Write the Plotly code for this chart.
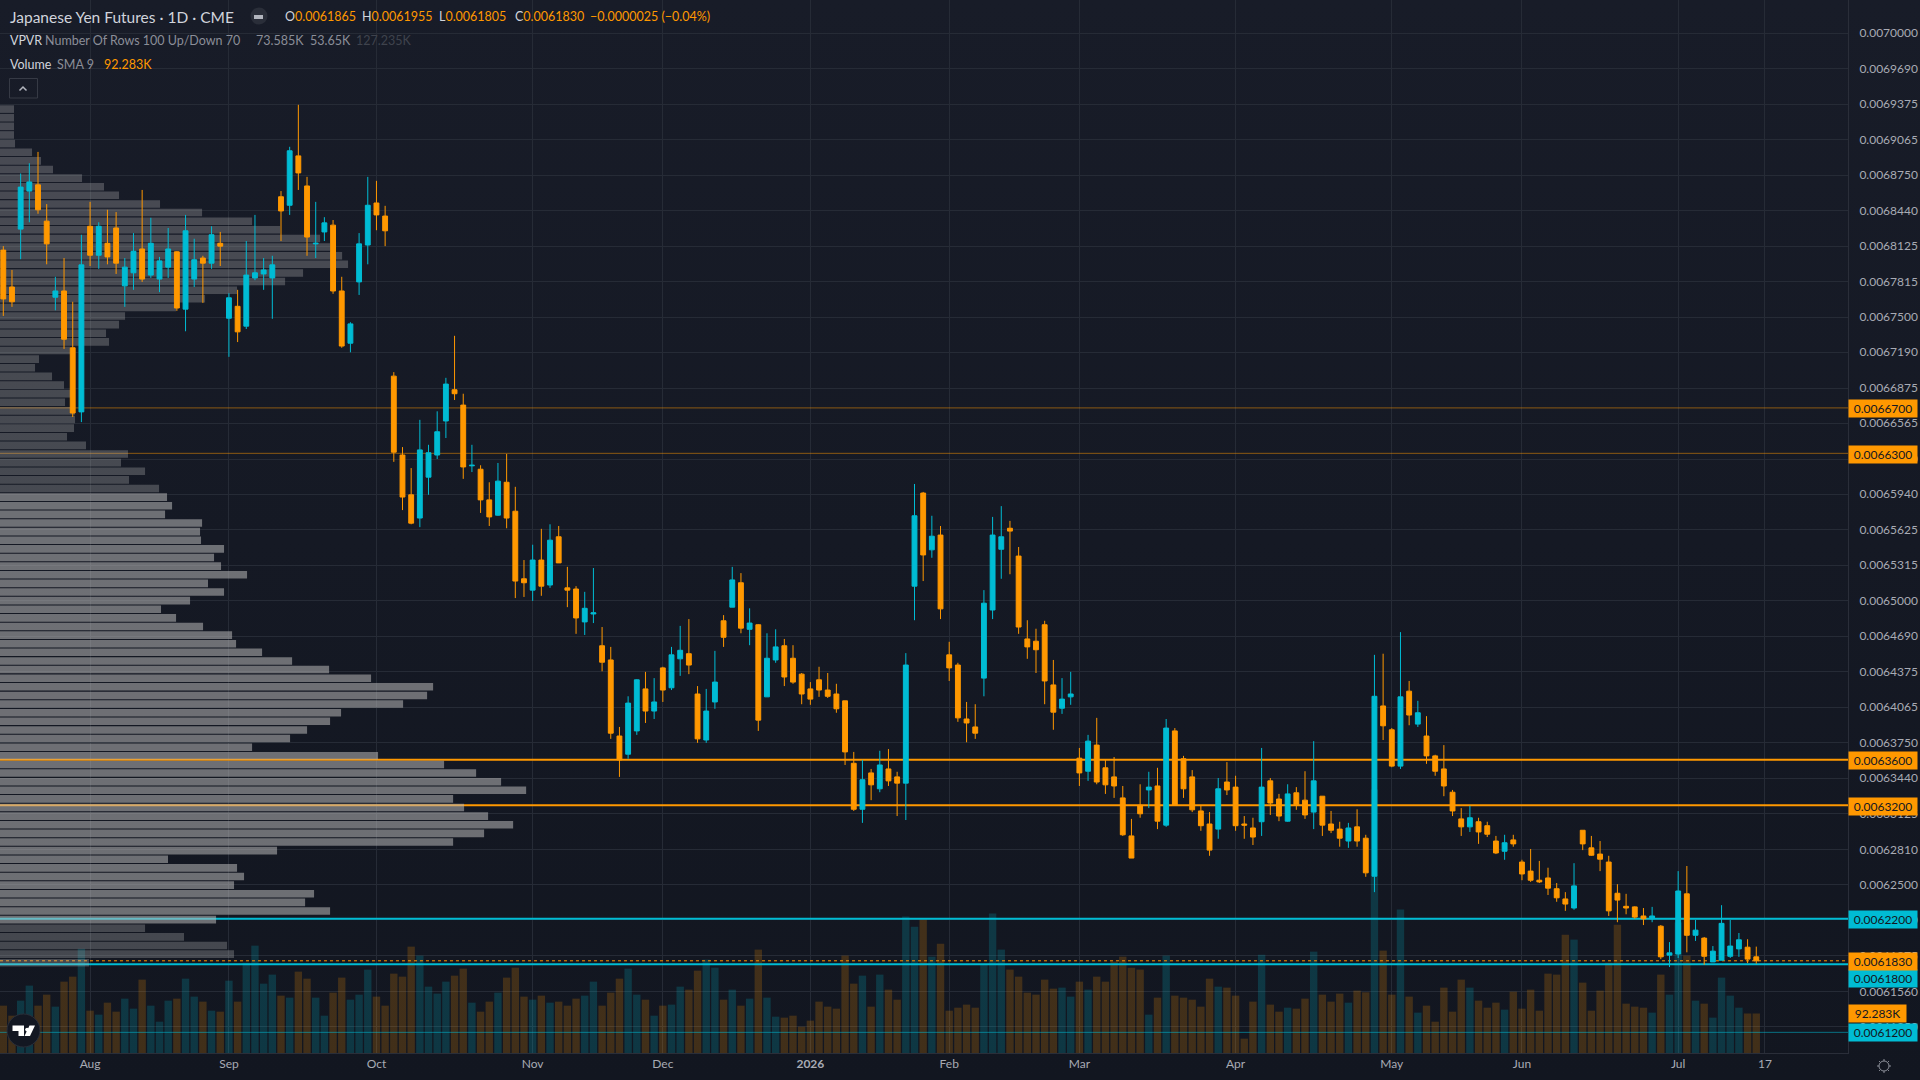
import math
import plotly.graph_objects as go

# Price data is stored in units of 1e-7 USD per JPY
PRICE_UNIT = 1e-7

opens = [
    68090,67765,68275,68610,68665,68345,67675,67730,67230,66665,68300,68045,68150,68285,67775,67890,68100,67870,67835,67940,
    68075,67570,67835,68020,67975,68150,67490,67595,67420,67845,67880,67845,68560,68485,68920,68655,68145,68250,68310,67730,
    67270,67810,68135,68505,68390,66980,66285,65935,65730,66090,66285,66585,66860,66725,66190,66160,65890,65755,66045,65790,
    65195,65095,65360,65140,65565,65115,65105,64815,64885,64605,64480,63810,63650,63855,64225,64030,64410,64235,64490,64535,
    64180,63775,64110,64825,64945,65160,64750,64790,64155,64480,64605,64495,64355,64225,64305,64215,64180,64120,63570,63165,
    63485,63345,63520,63450,63395,65130,65950,65450,65580,64525,64435,63960,63890,64320,64920,65455,65640,65395,64665,64645,
    64790,64260,64055,64155,63615,63500,63730,63530,63450,63265,62930,63200,63335,63370,63025,63855,63610,63450,63150,63035,
    62990,63405,63360,63035,63000,63055,63415,63255,63060,63310,63245,63140,63280,63035,62990,62885,63010,62910,62575,64075,
    63865,63545,64205,63915,63810,63635,63520,63315,63080,63010,63055,63020,62885,62795,62895,62700,62620,62540,62560,62465,
    62375,62295,62980,62825,62770,62700,62425,62310,62305,62225,62200,62135,61880,61890,62420,62055,62030,61820,61835,61870,
    61935,61950,61865,
]
highs = [
    68125,67915,68765,68855,68955,68495,67855,68020,67635,68225,68515,68335,68445,68425,68020,68240,68620,68375,68030,68285,
    68080,68400,68190,68040,68300,68250,67710,67740,68170,68400,68020,68040,68610,69000,69370,68735,68515,68380,68355,67855,
    67455,68240,68735,68700,68480,67015,66355,66170,66595,66375,66670,66965,67335,66825,66375,66195,66045,66215,66295,66005,
    65360,65495,65635,65675,65660,65300,65130,65080,65290,64770,64595,63890,64160,64310,64375,64320,64420,64595,64780,64840,
    64250,64225,64560,64875,65300,65245,64935,64795,64715,64750,64665,64610,64365,64285,64420,64365,64270,64120,63670,63600,
    63520,63680,63695,63495,64540,66030,65960,65750,65660,64640,64455,64110,64090,65095,65740,65835,65705,65475,64830,64755,
    64825,64480,64320,64375,63705,63820,63970,63600,63625,63370,63080,63385,63495,63530,63960,63880,63635,63510,63195,63140,
    63440,63580,63460,63105,63090,63705,63440,63300,63385,63360,63500,63765,63280,63150,63055,63045,63165,62940,64525,64535,
    63880,64725,64295,64120,63985,63645,63730,63335,63175,63195,63090,63055,62930,62940,62940,62720,62815,62710,62650,62515,
    62435,62690,62980,62930,62885,62755,62505,62420,62310,62295,62305,62145,61995,62620,62665,62190,62040,61960,62320,62190,
    62075,62020,61955,
]
lows = [
    67510,67590,68010,68335,68410,67965,67560,67220,66620,66575,67950,67925,67965,67880,67590,67740,67810,67845,67720,67845,
    67555,67375,67765,67625,67925,67950,67150,67280,67395,67825,67740,67485,68170,68400,68620,68040,68020,68170,67705,67230,
    67190,67695,67965,68265,68125,66225,65800,65675,65650,65935,66250,66435,66770,66075,66135,65775,65660,65750,65640,65025,
    65035,65000,65045,65115,65335,64945,64710,64700,64805,64380,63785,63450,63610,63820,63925,63960,64110,64215,64340,64355,
    63750,63750,64050,64595,64945,64715,64610,63855,64155,64455,64250,64270,64090,64085,64155,64145,64015,63555,63150,63045,
    63245,63315,63370,63105,63070,64830,65175,65380,64840,64295,63935,63755,63785,64160,64840,65195,65235,64710,64490,64365,
    64090,63865,64005,64085,63370,63415,63385,63300,63265,62930,62735,63090,63175,62990,63010,63200,63265,63140,62975,62755,
    62905,63290,62975,62905,62850,62930,63115,63060,63055,63160,63080,62990,62930,62955,62835,62825,62835,62570,62435,63775,
    63535,63520,63905,63890,63565,63460,63280,63105,62930,62965,62860,62920,62770,62720,62835,62540,62525,62515,62410,62350,
    62270,62280,62805,62755,62620,62225,62170,62240,62200,62145,62170,61845,61775,61855,61905,62005,61795,61820,61835,61855,
    61865,61810,61805,
]
closes = [
    67660,67635,68645,68690,68445,68145,67730,67305,66655,67960,68045,68300,68030,67975,67940,68080,67835,68150,67995,68100,
    67580,68260,68005,67975,68225,68125,67670,67370,67870,67890,67915,67960,68435,68965,68770,68205,68150,68330,67730,67245,
    67440,68145,68485,68400,68260,66310,65915,65685,66330,66305,66490,66910,66825,66180,66195,65890,65740,66055,65730,65175,
    65160,65360,65130,65535,65335,65095,64850,64935,64895,64460,63835,63600,64100,64305,64030,64110,64215,64525,64565,64435,
    63785,64030,64285,64680,65185,64760,64805,63950,64495,64595,64330,64285,64180,64135,64215,64160,64050,63670,63165,63425,
    63380,63555,63415,63395,64435,65750,65405,65570,64930,64410,63970,63925,63835,64980,65580,65565,65615,64770,64595,64570,
    64295,64020,64135,64180,63485,63765,63405,63380,63370,62940,62735,63125,63360,63060,63880,63200,63345,63160,63020,62805,
    63345,63335,63020,63025,62920,63360,63220,63105,63300,63205,63115,63415,63025,62980,62910,63000,62885,62605,64160,63900,
    63545,64155,63995,64015,63635,63500,63370,63150,63010,63090,62965,62945,62780,62870,62860,62595,62540,62525,62470,62385,
    62330,62490,62860,62760,62725,62270,62365,62295,62215,62200,62225,61865,61900,62445,62055,62100,61870,61915,62160,61960,
    62015,61845,61830,
]
# Daily volume in thousands of contracts
volumes = [
    110.6,87.2,122.3,157.4,110.6,136.3,108.3,166.7,178.4,243.8,98.9,89.6,117.6,96.6,127.0,103.6,171.4,110.6,73.2,122.3,
    127.0,173.7,131.7,120.0,98.9,96.6,169.0,120.0,211.1,250.8,162.0,183.1,134.0,129.3,190.1,173.7,129.3,87.2,141.0,176.1,
    124.6,136.3,194.8,131.7,110.6,185.4,178.4,248.5,227.5,155.0,138.7,166.7,180.7,197.1,117.6,96.6,120.0,141.0,176.1,199.4,
    131.7,124.6,134.0,117.6,120.0,110.6,127.0,134.0,166.7,110.6,141.0,173.7,197.1,136.3,
    124.6,87.2,110.6,113.0,155.0,148.0,192.4,218.1,199.4,124.6,148.0,110.6,127.0,241.5,129.3,84.9,82.6,87.2,61.5,75.6,
    120.0,108.3,103.6,227.5,162.0,180.7,108.3,183.1,148.0,124.6,318.9,295.2,311.9,225.1,255.5,98.9,105.9,113.0,105.9,206.4,
    325.9,241.5,194.8,178.4,141.0,136.3,171.4,150.3,152.7,131.7,166.7,148.0,178.4,166.7,213.4,225.1,199.4,194.8,89.6,129.3,
    227.5,134.0,129.3,124.6,108.3,173.7,155.0,152.7,134.0,33.5,120.0,229.8,113.0,96.6,
    105.9,103.6,127.0,236.8,136.3,120.0,138.7,117.6,145.7,141.8,615.5,239.2,136.3,335.2,131.7,94.3,110.6,73.2,152.7,96.6,
    171.4,152.7,122.3,105.9,117.6,101.3,143.3,103.6,148.0,98.9,185.4,183.1,276.5,264.9,164.4,98.9,145.7,211.1,299.9,115.3,
    108.3,105.9,94.3,183.1,136.3,304.8,227.5,122.3,115.3,82.6,176.1,134.0,105.9,92.283,92.283,
]
# Volume profile: thousands of contracts per price row, highest row first
profile_volumes = [
    20,20,20,20,21.5,45.8,58.6,75.8,117.3,148.7,170.2,228.8,288.9,360.4,400.4,457.6,471.9,489.1,497.6,433.3,
    407.6,338.9,293.2,251.7,178.8,170.2,151.6,155.9,100.1,55.8,50.1,74.4,91.5,101.5,93,107.3,107.3,105.8,95.8,123.0,
    183.0,173.0,207.4,184.5,227.4,238.8,246.0,236.0,288.9,286.0,287.4,320.3,306.0,316.0,353.2,297.4,320.3,271.7,230.2,251.7,
    290.3,331.8,337.5,374.7,417.6,470.5,530.5,619.2,610.6,576.3,487.6,471.9,439.0,414.7,360.4,540.5,634.9,680.7,716.4,752.2,
    647.8,663.5,697.8,733.6,692.1,647.8,396.1,240.2,338.9,348.9,334.6,449.0,436.2,471.9,308.9,207.4,263.1,324.6,334.6,127.235,
]
VALUE_AREA_ROWS = (45, 94)

month_ticks = [10, 26, 43, 61, 76, 93, 109, 124, 142, 160, 175, 193, 203]
month_labels = ["Aug", "Sep", "Oct", "Nov", "Dec", "<b>2026</b>", "Feb", "Mar", "Apr", "May", "Jun", "Jul", "17"]

price_ticks = [
    70000,69690,69375,69065,68750,68440,68125,67815,67500,67190,66875,66565,66250,65940,65625,
    65315,65000,64690,64375,64065,63750,63440,63125,62810,62500,62190,61875,61560,61250,
]

ORANGE = "#ff9800"
TEAL = "#00bcd4"
BG = "#151a25"
GRID = "#262b36"
TEXT = "#d1d4dc"
MUTED = "#8b8e98"
TICK = "#a8abb4"
FONT = "Lato"

assert len(opens) == len(highs) == len(lows) == len(closes) == len(volumes) == 203
assert len(profile_volumes) == 100

xs = list(range(len(opens)))
to_price = lambda values: [v * PRICE_UNIT for v in values]

# Drawn levels: price, colour, width, dash
levels = [
    (66700, "rgba(255,152,0,0.5)", 1, "solid"),
    (66300, "rgba(255,152,0,0.5)", 1, "solid"),
    (63600, ORANGE, 2, "solid"),
    (63200, ORANGE, 2, "solid"),
    (62200, TEAL, 2, "solid"),
    (61800, TEAL, 2, "solid"),
    (61200, "rgba(0,188,212,0.55)", 1, "solid"),
    (closes[-1], ORANGE, 1, "dot"),
]

PLOT_W, PLOT_H = 1848, 1053
X_RANGE = [-0.38, 212.57]
Y_RANGE = [0.0061018, 0.0070293]
VOLUME_MAX = 2460
PROFILE_MAX = 2642


def px(x):
    return x / PLOT_W


def py(y):
    return 1 - y / PLOT_H


fig = go.Figure()

up = [c >= o for o, c in zip(opens, closes)]
fig.add_trace(go.Bar(
    x=xs, y=volumes, xaxis="x", yaxis="y",
    marker=dict(color=["rgba(0,188,212,0.2)" if u else "rgba(255,152,0,0.2)" for u in up], line_width=0),
    hoverinfo="skip",
))

for price, color, width, dash in levels:
    fig.add_trace(go.Scatter(
        x=X_RANGE, y=[price * PRICE_UNIT] * 2, xaxis="x", yaxis="y2", mode="lines",
        line=dict(color=color, width=width, dash=dash), hoverinfo="skip",
    ))

profile_top, profile_bottom = max(highs) * PRICE_UNIT, min(lows) * PRICE_UNIT
row_step = (profile_top - profile_bottom) / len(profile_volumes)
fig.add_trace(go.Bar(
    orientation="h",
    x=profile_volumes,
    y=[profile_top - (i + 0.5) * row_step for i in range(len(profile_volumes))],
    width=row_step * 0.88,
    xaxis="x2", yaxis="y3",
    marker=dict(
        color=["rgba(184,184,184,0.55)" if VALUE_AREA_ROWS[0] <= i <= VALUE_AREA_ROWS[1]
               else "rgba(187,187,187,0.3)" for i in range(len(profile_volumes))],
        line_width=0,
    ),
    hoverinfo="skip",
))

fig.add_trace(go.Candlestick(
    x=xs, open=to_price(opens), high=to_price(highs), low=to_price(lows), close=to_price(closes),
    xaxis="x3", yaxis="y4",
    increasing=dict(line=dict(color=TEAL, width=1), fillcolor=TEAL),
    decreasing=dict(line=dict(color=ORANGE, width=1), fillcolor=ORANGE),
    whiskerwidth=0,
    hoverinfo="skip",
))


def text_at(x, y, text, color=TEXT, size=12.5):
    return dict(
        xref="paper", yref="paper", x=px(x), y=py(y), text=text, showarrow=False,
        xanchor="left", yanchor="middle", font=dict(family=FONT, size=size, color=color),
    )


def value_part(label, value):
    return f'<span style="color:{TEXT}">{label}</span><span style="color:{ORANGE}">{value}</span>'


annotations = [
    text_at(8, 16.7, "Japanese Yen Futures · 1D · CME", TEXT, 15.5),
    text_at(283, 16.7, value_part("O", "0.0061865")),
    text_at(360, 16.7, value_part("H", "0.0061955")),
    text_at(437, 16.7, value_part("L", "0.0061805")),
    text_at(513, 16.7, value_part("C", "0.0061830")),
    text_at(588, 16.7, "−0.0000025 (−0.04%)", ORANGE),
    text_at(8, 40.7, "VPVR", TEXT),
    text_at(43, 40.7, "Number Of Rows 100 Up/Down 70", MUTED),
    text_at(254, 40.7, "73.585K", MUTED),
    text_at(308, 40.7, "53.65K", MUTED),
    text_at(354, 40.7, "127.235K", "#3f434d"),
    text_at(8, 64.3, "Volume", TEXT),
    text_at(55, 64.3, "SMA 9", MUTED),
    text_at(102, 64.3, "92.283K", ORANGE),
]


def price_tag(price, color, shift=-1):
    return dict(
        xref="paper", yref="y2", x=1, y=price * PRICE_UNIT, yshift=shift, xanchor="left", yanchor="middle",
        text=f"{price * PRICE_UNIT:.7f}", showarrow=False, width=68, height=17, bgcolor=color,
        font=dict(family=FONT, size=12, color="#131722"), borderpad=0,
    )


annotations += [
    price_tag(66700, ORANGE),
    price_tag(66300, ORANGE),
    price_tag(63600, ORANGE),
    price_tag(63200, ORANGE),
    price_tag(62200, TEAL),
    price_tag(61800, TEAL, shift=-14),
    price_tag(closes[-1], ORANGE),
    price_tag(61200, TEAL, shift=0),
    dict(
        xref="paper", yref="y", x=1, y=volumes[-1], xanchor="left", yanchor="middle", text="92.283K",
        showarrow=False, width=57, height=17, bgcolor=ORANGE,
        font=dict(family=FONT, size=12, color="#131722"), borderpad=0,
    ),
]

# Interface details around the chart
shapes = [
    dict(type="circle", xref="paper", yref="paper", x0=px(250.5), x1=px(267.5), y0=py(24.5), y1=py(7.5),
         fillcolor="#2a2e39", line_width=0),
    dict(type="rect", xref="paper", yref="paper", x0=px(254), x1=px(263), y0=py(19), y1=py(15),
         fillcolor="#b2b5be", line_width=0),
    dict(type="rect", xref="paper", yref="paper", x0=px(9.5), x1=px(37.5), y0=py(98), y1=py(78.5),
         fillcolor="rgba(0,0,0,0)", line=dict(color="#363a45", width=1)),
    dict(type="path", xref="paper", yref="paper",
         path=f"M {px(19.5)} {py(90.5)} L {px(23)} {py(87)} L {px(26.5)} {py(90.5)}",
         line=dict(color="#b2b5be", width=1.5)),
    dict(type="circle", xref="paper", yref="paper", x0=px(7), x1=px(40), y0=py(1047), y1=py(1014),
         fillcolor="#131722", line=dict(color="#2a2e39", width=1)),
    dict(type="path", xref="paper", yref="paper",
         path=(f"M {px(12.5)} {py(1025.5)} L {px(24)} {py(1025.5)} L {px(24)} {py(1036)} L {px(18.5)} {py(1036)} "
               f"L {px(18.5)} {py(1031)} L {px(12.5)} {py(1031)} Z "
               f"M {px(35)} {py(1025.5)} L {px(30)} {py(1036)} L {px(24.5)} {py(1036)} L {px(29.5)} {py(1025.5)} Z"),
         fillcolor="#ffffff", line_width=0),
    dict(type="circle", xref="paper", yref="paper", x0=px(25.2), x1=px(29), y0=py(1031.5), y1=py(1027.7),
         fillcolor="#ffffff", line_width=0),
    dict(type="circle", xref="paper", yref="paper", x0=px(1879), x1=px(1889), y0=py(1071), y1=py(1061),
         fillcolor="rgba(0,0,0,0)", line=dict(color="#8b8e98", width=1)),
]
spokes = ""
for k in range(8):
    a = k * math.pi / 4
    spokes += (f"M {px(1884 + 5 * math.cos(a))} {py(1066 + 5 * math.sin(a))} "
               f"L {px(1884 + 7 * math.cos(a))} {py(1066 + 7 * math.sin(a))} ")
shapes.append(dict(type="path", xref="paper", yref="paper", path=spokes, line=dict(color="#8b8e98", width=1)))

# Soft top-to-bottom shading of the chart background
backdrop = (
    "data:image/svg+xml;utf8,<svg xmlns='http://www.w3.org/2000/svg' width='1920' height='1080' "
    "preserveAspectRatio='none'><defs><linearGradient id='g' x1='0' y1='0' x2='0' y2='1'>"
    "<stop offset='0' stop-color='%23181c28'/><stop offset='1' stop-color='%23121620'/></linearGradient></defs>"
    "<rect width='1920' height='1080' fill='url(%23g)'/></svg>"
)

hidden = dict(visible=False, showgrid=False, zeroline=False, fixedrange=True)

fig.update_layout(
    width=1920, height=1080, autosize=False,
    margin=dict(l=0, r=72, t=0, b=27, pad=0),
    paper_bgcolor=BG, plot_bgcolor=BG,
    showlegend=False, barmode="overlay", bargap=0.15, boxmode="overlay", boxgap=0.2,
    font=dict(family=FONT, size=12, color=TICK),
    images=[dict(source=backdrop, xref="paper", yref="paper", x=0, y=1, sizex=1920 / PLOT_W,
                 sizey=1080 / PLOT_H, xanchor="left", yanchor="top", sizing="stretch", layer="below")],
    xaxis=dict(
        domain=[0, 1], range=X_RANGE, tickmode="array", tickvals=month_ticks, ticktext=month_labels,
        showgrid=True, gridcolor=GRID, gridwidth=1, zeroline=False, ticks="", showline=True,
        linecolor="#2a2e39", linewidth=1, tickfont=dict(family=FONT, size=12, color=TICK), fixedrange=True,
    ),
    xaxis2=dict(overlaying="x", range=[0, PROFILE_MAX], anchor="y3", **hidden),
    xaxis3=dict(overlaying="x", range=X_RANGE, anchor="y4", rangeslider=dict(visible=False), **hidden),
    yaxis=dict(domain=[0, 1], range=[0, VOLUME_MAX], anchor="x", **hidden),
    yaxis2=dict(
        overlaying="y", side="right", anchor="x", range=Y_RANGE, tickmode="array",
        tickvals=to_price(price_ticks), ticktext=[f"{v * PRICE_UNIT:.7f}" for v in price_ticks],
        showgrid=True, gridcolor=GRID, gridwidth=1, zeroline=False, ticks="", showline=True,
        linecolor="#2a2e39", linewidth=1, tickfont=dict(family=FONT, size=12, color=TICK),
        ticklabelstandoff=8, fixedrange=True,
    ),
    yaxis3=dict(overlaying="y", range=Y_RANGE, anchor="x2", **hidden),
    yaxis4=dict(overlaying="y", range=Y_RANGE, anchor="x3", **hidden),
    annotations=annotations,
    shapes=shapes,
)

fig.write_html("out.html", config={"displayModeBar": False})
